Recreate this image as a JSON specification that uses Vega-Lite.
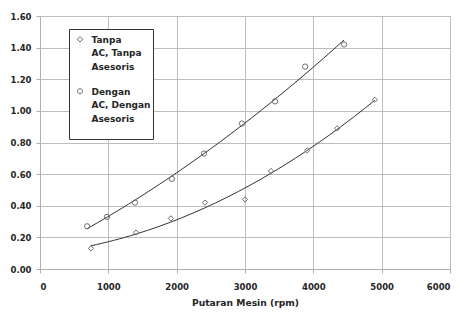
{
  "$schema": "https://vega.github.io/schema/vega-lite/v6.json",
  "width": 410,
  "height": 253,
  "autosize": {"type": "none"},
  "padding": {"left": 40, "top": 16, "right": 15, "bottom": 43},
  "background": "white",
  "config": {
    "view": {"stroke": "#b0b0b0", "strokeWidth": 1},
    "font": "DejaVu Sans",
    "style": {"guide-label": {"lineHeight": 13.5}},
    "axis": {
      "gridColor": "#bdbdbd",
      "gridWidth": 1,
      "gridOpacity": 1,
      "domainColor": "#b0b0b0",
      "tickColor": "#b0b0b0",
      "tickSize": 4,
      "labelFont": "DejaVu Sans",
      "labelFontSize": 8.5,
      "labelFontWeight": "bold",
      "labelColor": "#262626",
      "labelOverlap": false,
      "titleFont": "DejaVu Sans",
      "titleFontSize": 9.2,
      "titleFontWeight": "bold",
      "titleColor": "#262626"
    }
  },
  "data": {
    "values": [
      {"series": "Dengan AC, Dengan Asesoris", "rpm": 690, "v": 0.27},
      {"series": "Dengan AC, Dengan Asesoris", "rpm": 980, "v": 0.33},
      {"series": "Dengan AC, Dengan Asesoris", "rpm": 1390, "v": 0.42},
      {"series": "Dengan AC, Dengan Asesoris", "rpm": 1930, "v": 0.57},
      {"series": "Dengan AC, Dengan Asesoris", "rpm": 2400, "v": 0.73},
      {"series": "Dengan AC, Dengan Asesoris", "rpm": 2955, "v": 0.92},
      {"series": "Dengan AC, Dengan Asesoris", "rpm": 3440, "v": 1.06},
      {"series": "Dengan AC, Dengan Asesoris", "rpm": 3880, "v": 1.28},
      {"series": "Dengan AC, Dengan Asesoris", "rpm": 4450, "v": 1.42},
      {"series": "Tanpa AC, Tanpa Asesoris", "rpm": 745, "v": 0.13},
      {"series": "Tanpa AC, Tanpa Asesoris", "rpm": 1405, "v": 0.23},
      {"series": "Tanpa AC, Tanpa Asesoris", "rpm": 1915, "v": 0.32},
      {"series": "Tanpa AC, Tanpa Asesoris", "rpm": 2415, "v": 0.42},
      {"series": "Tanpa AC, Tanpa Asesoris", "rpm": 3000, "v": 0.44},
      {"series": "Tanpa AC, Tanpa Asesoris", "rpm": 3380, "v": 0.62},
      {"series": "Tanpa AC, Tanpa Asesoris", "rpm": 3910, "v": 0.75},
      {"series": "Tanpa AC, Tanpa Asesoris", "rpm": 4350, "v": 0.89},
      {"series": "Tanpa AC, Tanpa Asesoris", "rpm": 4900, "v": 1.07}
    ]
  },
  "encoding": {
    "x": {
      "field": "rpm",
      "type": "quantitative",
      "scale": {"domain": [0, 6000], "nice": false},
      "axis": {"values": [0, 1000, 2000, 3000, 4000, 5000, 6000], "format": "d", "title": "Putaran Mesin (rpm)", "labelPadding": 9, "titlePadding": 8}
    },
    "y": {
      "field": "v",
      "type": "quantitative",
      "scale": {"domain": [0, 1.6], "nice": false},
      "axis": {"values": [0, 0.2, 0.4, 0.6, 0.8, 1.0, 1.2, 1.4, 1.6], "format": ".2f", "title": null, "labelPadding": 5}
    }
  },
  "resolve": {"scale": {"shape": "independent"}, "legend": {"shape": "independent"}},
  "layer": [
    {
      "transform": [
        {"regression": "v", "on": "rpm", "groupby": ["series"], "method": "poly", "order": 2}
      ],
      "mark": {"type": "line", "color": "#333", "strokeWidth": 1},
      "encoding": {
        "detail": {"field": "series"}
      }
    },
    {
      "mark": {"type": "point", "filled": false, "size": 28, "strokeWidth": 1, "color": "#6e6e6e", "opacity": 1},
      "encoding": {
        "shape": {
          "field": "series",
          "type": "nominal",
          "scale": {"domain": ["Tanpa AC, Tanpa Asesoris", "Dengan AC, Dengan Asesoris"], "range": ["diamond", "circle"]},
          "legend": null
        }
      }
    },
    {
      "transform": [{"filter": "false"}],
      "mark": {"type": "point", "filled": false, "strokeWidth": 1, "color": "#6e6e6e", "opacity": 1},
      "encoding": {
        "shape": {
          "field": "series",
          "type": "nominal",
          "scale": {"domain": ["Tanpa AC, Tanpa Asesoris", "Dengan AC, Dengan Asesoris"], "range": ["M-1.1,1.5L0,0.4L1.1,1.5L0,2.6Z", "M-1,1.5A1,1,0,1,0,1,1.5A1,1,0,1,0,-1,1.5Z"]},
          "legend": {
            "title": null,
            "orient": "none",
            "legendX": 29,
            "legendY": 13,
            "strokeColor": "#333",
            "fillColor": "white",
            "padding": 2,
            "symbolSize": 25,
            "symbolStrokeColor": "#6e6e6e",
            "symbolFillColor": "transparent",
            "symbolStrokeWidth": 1,
            "symbolOffset": 4.5,
            "labelFont": "DejaVu Sans",
            "labelFontSize": 9,
            "labelFontWeight": "bold",
            "labelColor": "#262626",
            "labelLimit": 200,
            "labelBaseline": "top",
            "labelOffset": 7,
            "rowPadding": 11,
            "labelExpr": "datum.label == 'Tanpa AC, Tanpa Asesoris' ? ['Tanpa', 'AC, Tanpa', 'Asesoris'] : ['Dengan', 'AC, Dengan', 'Asesoris', ' ']"
          }
        }
      }
    }
  ]
}
